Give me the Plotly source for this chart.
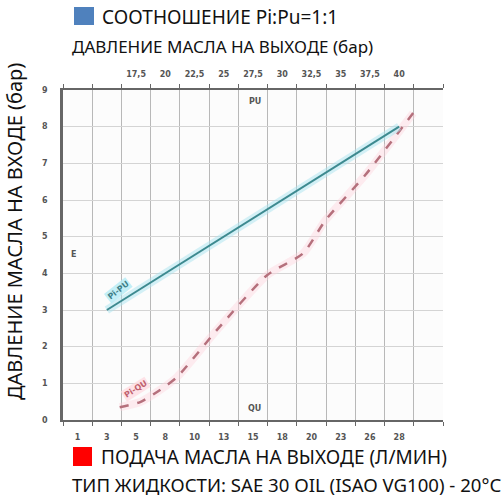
import plotly.graph_objects as go

# ---- data ----
flow_tick_labels = ["1", "3", "5", "8", "10", "13", "15", "18", "20", "23", "26", "28"]
flow_tick_vals = [1.0, 3.5, 6.0, 8.5, 11.0, 13.5, 16.0, 18.5, 21.0, 23.5, 26.0, 28.5]
pu_tick_vals = [17.5, 20, 22.5, 25, 27.5, 30, 32.5, 35, 37.5, 40]
pu_tick_labels = ["17,5", "20", "22,5", "25", "27,5", "30", "32,5", "35", "37,5", "40"]
pi_ticks = [0, 1, 2, 3, 4, 5, 6, 7, 8, 9]

# Pi-PU line (outlet pressure bar vs inlet pressure bar)
pu_out = [15, 40]
pi_pu = [3.0, 8.0]

# Pi-QU curve (outlet flow L/min vs inlet pressure bar)
qu_flow = [4.6, 6.35, 8.05, 9.5, 12.9, 17.2, 20.3, 22.2, 25.6, 29.7]
pi_qu = [0.35, 0.49, 0.82, 1.17, 2.45, 3.95, 4.55, 5.45, 6.68, 8.37]

FONT = "Noto Sans"
TICKFONT = dict(family="DejaVu Sans", size=8, color="#555555", weight="bold")

fig = go.Figure()

# halos
fig.add_trace(go.Scatter(x=pu_out, y=pi_pu, xaxis="x2", yaxis="y", mode="lines",
                         line=dict(color="rgba(170,228,240,0.5)", width=8), hoverinfo="skip", showlegend=False))
fig.add_trace(go.Scatter(x=qu_flow, y=pi_qu, xaxis="x", yaxis="y", mode="lines",
                         line=dict(color="rgba(255,210,220,0.4)", width=8, shape="spline", smoothing=0.6),
                         hoverinfo="skip", showlegend=False))
# main lines
fig.add_trace(go.Scatter(x=pu_out, y=pi_pu, xaxis="x2", yaxis="y", mode="lines",
                         line=dict(color="#3d8a90", width=2), name="Pi-PU", showlegend=False))
fig.add_trace(go.Scatter(x=qu_flow, y=pi_qu, xaxis="x", yaxis="y", mode="lines",
                         line=dict(color="#b5707c", width=2.5, dash="dash", shape="spline", smoothing=0.6),
                         name="Pi-QU", showlegend=False))

def px(x):
    return (x - 63) / 380.0

def py(y):
    return (420 - y) / 330.0

annotations = [
    dict(text="СООТНОШЕНИЕ Pi:Pu=1:1", x=px(100), y=py(17), xanchor="left", yanchor="middle",
         font=dict(family=FONT, size=19, color="#111111")),
    dict(text="ДАВЛЕНИЕ МАСЛА НА ВЫХОДЕ (бар)", x=px(70), y=py(47), xanchor="left", yanchor="middle",
         font=dict(family=FONT, size=17, color="#111111")),
    dict(text="ПОДАЧА МАСЛА НА ВЫХОДЕ (Л/МИН)", x=px(99), y=py(457), xanchor="left", yanchor="middle",
         font=dict(family=FONT, size=19, color="#111111")),
    dict(text="ТИП ЖИДКОСТИ: SAE 30 OIL (ISAO VG100) - 20°C", x=px(70), y=py(484), xanchor="left", yanchor="middle",
         font=dict(family=FONT, size=18.6, color="#111111")),
    dict(text="ДАВЛЕНИЕ МАСЛА НА ВХОДЕ (бар)", x=px(14), y=py(232), xanchor="center", yanchor="middle",
         textangle=-90, font=dict(family=FONT, size=20, color="#111111")),
    dict(text="PU", x=px(255), y=py(101), font=TICKFONT),
    dict(text="QU", x=px(254), y=py(408), font=TICKFONT),
    dict(text="E", x=px(73), y=py(254), font=TICKFONT),
    dict(text="Pi-PU", x=px(118), y=py(290), textangle=-38,
         bgcolor="rgba(180,235,245,0.8)", font=dict(family="DejaVu Sans", size=8, color="#3d7f88", weight="bold")),
    dict(text="Pi-QU", x=px(135), y=py(389), textangle=-32,
         bgcolor="rgba(255,215,222,0.7)", font=dict(family="DejaVu Sans", size=8, color="#c0606e", weight="bold")),
]
for a in annotations:
    a.setdefault("xanchor", "center")
    a.setdefault("yanchor", "middle")
    a["showarrow"] = False
    a["xref"] = "paper"
    a["yref"] = "paper"

shapes = [
    dict(type="rect", xref="paper", yref="paper", x0=px(74), x1=px(94), y0=py(7), y1=py(25),
         fillcolor="#4f81bd", line=dict(width=0)),
    dict(type="rect", xref="paper", yref="paper", x0=px(73), x1=px(92), y0=py(447), y1=py(466),
         fillcolor="#ff0000", line=dict(width=0)),
]

fig.update_layout(
    width=502, height=497,
    margin=dict(l=63, r=59, t=90, b=77),
    paper_bgcolor="white", plot_bgcolor="#fcfcfc",
    showlegend=False,
    annotations=annotations,
    shapes=shapes,
    xaxis=dict(range=[-0.25, 32.25], tickmode="array", tickvals=flow_tick_vals, ticktext=flow_tick_labels,
               ticks="", showgrid=False, zeroline=False, showline=True, linecolor="#666666", linewidth=1.5,
               tickfont=TICKFONT, ticklabelstandoff=9,
               minor=dict(tick0=-0.25, dtick=2.5, ticks="outside", ticklen=4, tickcolor="#666666",
                          showgrid=True, gridcolor="#b8b8b8", gridwidth=1)),
    xaxis2=dict(range=[11.25, 43.75], overlaying="x", side="top", tickmode="array",
                tickvals=pu_tick_vals, ticktext=pu_tick_labels, ticks="", showgrid=False, zeroline=False,
                showline=True, linecolor="#666666", linewidth=1.5, tickfont=TICKFONT, ticklabelstandoff=8,
                minor=dict(tick0=11.25, dtick=2.5, ticks="outside", ticklen=4, tickcolor="#666666", showgrid=False)),
    yaxis=dict(range=[0, 9], tickmode="array", tickvals=pi_ticks, ticks="", showgrid=True,
               gridcolor="#d4d4d4", gridwidth=1, zeroline=False, showline=True, linecolor="#666666",
               linewidth=2.5, tickfont=TICKFONT, ticklabelstandoff=11),
)

fig.write_html("out.html", config={"displayModeBar": False},
               post_script="document.body.style.margin='0';document.body.style.padding='0';")
